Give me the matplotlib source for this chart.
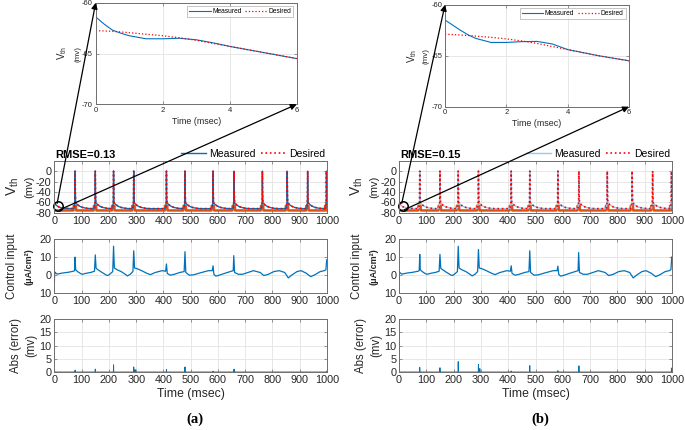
import numpy as np
import matplotlib.pyplot as plt
from matplotlib.patches import ConnectionPatch

plt.rcParams['font.family'] = ['Liberation Sans', 'DejaVu Sans']
plt.rcParams['axes.unicode_minus'] = False
plt.rcParams['mathtext.default'] = 'regular'

# ---------------- data ----------------
# spike times (ms) of the membrane voltage, same in both runs
spike_t = [76, 150, 217, 291, 411, 479, 582, 659, 763, 854, 929, 998]
# shape around each spike: offset (ms) -> voltage (mV)
spike_off = [-8, -3, -1, 0, 1, 2, 5, 10, 18, 28, 42, 58]
spike_v = [-72, -70.5, -60, 0, -45, -61, -62.5, -65, -67.8, -69.8, -71.3, -72]
# start of the trace
start_t = [0, 3, 8, 15, 25, 40, 60]
start_des = [-62.7, -63.7, -66, -68.5, -70.3, -71.5, -72]
start_meas = [-61.4, -63.5, -66, -68.5, -70.3, -71.5, -72]
# orange trace: flat with a small step at each spike
orange_base = -75.5
orange_off = [-6, -5, 3, 4]
orange_v = [-75.5, -66.5, -66.5, -75.5]

# control input: slow part (shared) and spike peaks per panel
ctrl_t = [0, 1, 5, 10, 30, 50, 70, 74,
          78, 85, 95, 102, 115, 135, 147,
          153, 160, 175, 190, 196, 205, 214,
          220, 230, 245, 260, 268, 278, 288,
          294, 305, 320, 340, 352, 370, 395, 408,
          414, 425, 440, 460, 476,
          482, 495, 510, 540, 565, 579,
          585, 592, 605, 620, 645, 656,
          661, 675, 690, 710, 730, 755, 768, 785, 805, 825, 845, 858,
          870, 890, 905, 925, 940, 955, 975, 990, 996]
ctrl_v = [-3.5, 1.8, 1.2, 0.6, 1.2, 1.6, 2.2, 2.5,
          3.0, 2.0, 1.0, 0.5, 1.0, 1.6, 2.2,
          3.8, 3.0, 1.5, 0.1, -0.2, 0.8, 2.0,
          4.0, 3.0, 2.0, 0.5, -0.4, 0.5, 2.0,
          4.0, 3.5, 2.5, 1.0, 0.3, 1.5, 2.5, 2.2,
          1.0, 0.0, 0.5, 1.5, 2.0,
          1.5, 0.0, 0.2, 1.5, 2.5, 2.5,
          0.5, -0.5, 0.0, 0.8, 2.0, 2.5,
          1.5, 0.5, 0.5, 1.5, 2.5, 1.5, -0.2, 0.5, 2.0, 2.5, 1.5, -1.5,
          0.0, 2.0, 2.5, 1.0, -0.8, 0.2, 2.0, 2.5, 3.0]
ctrl_spk_t = [76, 150, 217, 291, 411, 479, 582, 658, 999]
ctrl_spk_a = [10, 11.2, 16, 13.5, 6.2, 13, 5.2, 10.8, 8.5]
ctrl_spk_b = [11.5, 11.5, 16, 14.2, 5.2, 13.5, 5, 12.5, 10]

# absolute error spikes
err_base = 0.1
err_t = [76, 150, 217, 291, 296, 411, 479, 582, 659, 998]
err_a = [0.8, 1.2, 2.8, 2.0, 1.0, 1.0, 2.0, 0.4, 1.2, 0.4]
err_b = [1.8, 1.7, 4.0, 2.9, 1.4, 0.5, 2.5, 0.6, 2.4, 1.6]

# zoomed first 6 ms
zoom_t = [0, 0.25, 0.5, 0.75, 1, 1.5, 2, 2.5, 3, 3.5, 4, 4.5, 5, 5.5, 6]
zoom_meas_a = [-61.4, -62.1, -62.7, -63.0, -63.25, -63.55, -63.55, -63.5, -63.65, -63.95, -64.3, -64.6, -64.9, -65.2, -65.5]
zoom_des_a = [-62.75, -62.78, -62.82, -62.88, -62.95, -63.1, -63.25, -63.45, -63.7, -64.0, -64.3, -64.6, -64.9, -65.2, -65.5]
zoom_meas_b = [-61.5, -62.0, -62.5, -62.95, -63.3, -63.7, -63.7, -63.62, -63.6, -63.85, -64.4, -64.7, -65.0, -65.25, -65.5]
zoom_des_b = [-62.9, -62.93, -62.97, -63.02, -63.08, -63.2, -63.35, -63.55, -63.8, -64.1, -64.4, -64.7, -65.0, -65.25, -65.5]

rmse_txt = ['RMSE=0.13', 'RMSE=0.15']
panel_txt = ['(a)', '(b)']

# ---------------- build traces from the points ----------------
def v_trace(start_v):
    t = list(start_t)
    v = list(start_v)
    for s in spike_t:
        t += [s + o for o in spike_off]
        v += spike_v
    return np.array(t), np.array(v)

def orange_trace():
    t = [0]
    v = [orange_base]
    for s in spike_t:
        t += [s + o for o in orange_off]
        v += orange_v
    t.append(1000)
    v.append(orange_base)
    return np.array(t), np.array(v)

def ctrl_trace(peaks):
    pts = sorted(list(zip(ctrl_t, ctrl_v)) + list(zip(ctrl_spk_t, peaks)))
    return [p[0] for p in pts], [p[1] for p in pts]

def err_trace(vals):
    t = [0]
    v = [err_base]
    for s, e in zip(err_t, vals):
        t += [s - 0.6, s, s + 0.6]
        v += [err_base, e, err_base]
    t.append(1000)
    v.append(err_base)
    return t, v

W, H = 685, 430
def box(l, t, r, b):
    return [l / W, 1 - b / H, (r - l) / W, (b - t) / H]

BLUE = '#0072BD'
ORANGE = '#D95319'
GRID = '#e3e3e3'
SPINE = '#6e6e6e'
TXT = '#262626'

def style(ax, fs):
    ax.grid(True, color=GRID, lw=0.6)
    ax.set_axisbelow(True)
    for s in ax.spines.values():
        s.set_color(SPINE)
        s.set_linewidth(0.7)
    ax.tick_params(direction='in', length=2.5, width=0.5, colors=SPINE,
                   labelcolor=TXT, labelsize=fs, pad=2,
                   top=True, right=True)

def side_label(ax, txt, dx, fs, weight='normal'):
    ax.annotate(txt, xy=(0, 0.5), xycoords='axes fraction', xytext=(dx, 0),
                textcoords='offset pixels', rotation=90, ha='center',
                va='center', fontsize=fs, fontweight=weight, color=TXT)

fig = plt.figure(figsize=(6.85, 4.30), dpi=100)

panels = [
    dict(x0=0, main=(54.4, 327), inset=(95.7, 2.7, 296.7, 104.3),
         zm=zoom_meas_a, zd=zoom_des_a, cs=ctrl_spk_a, er=err_a, mcol=BLUE,
         vlab=-34, mvlab=-18),
    dict(x0=345, main=(399, 672), inset=(445, 4.7, 629, 106.7),
         zm=zoom_meas_b, zd=zoom_des_b, cs=ctrl_spk_b, er=err_b, mcol='#9cc6ea',
         vlab=-33, mvlab=-19),
]

for k, p in enumerate(panels):
    l, r = p['main']

    # ---- main voltage axes ----
    ax1 = fig.add_axes(box(l, 160.7, r, 212.8))
    style(ax1, 7.8)
    tm, vm = v_trace(start_meas)
    td, vd = v_trace(start_des)
    to, vo = orange_trace()
    ax1.plot(to, vo, color=ORANGE, lw=1.8)
    ax1.plot(tm, vm, color=p['mcol'], lw=1.0, label='Measured')
    ax1.plot(td, vd, color='red', ls=':', lw=1.2, label='Desired')
    ax1.set_xlim(0, 1000)
    ax1.set_ylim(-80, 20)
    ax1.set_xticks(range(0, 1001, 100))
    ax1.set_yticks(range(-80, 1, 20))
    side_label(ax1, 'V$_{th}$', -42, 10)
    side_label(ax1, '(mv)', -25, 8)
    ax1.annotate(rmse_txt[k], xy=(0, 1), xycoords='axes fraction',
                 xytext=(1, 6), textcoords='offset pixels', ha='left',
                 va='center', fontsize=8, fontweight='bold', color='k')
    ax1.legend(loc='lower right', bbox_to_anchor=(1.0, 1.0), ncol=2,
               frameon=False, fontsize=7.5, handlelength=2.4,
               handletextpad=0.3, columnspacing=0.5, borderaxespad=0.1,
               borderpad=0.1)
    ax1.plot([13], [-67], 'o', ms=6.8, mfc='none', mec='k', mew=1.1, clip_on=False)

    # ---- control input ----
    ax2 = fig.add_axes(box(l, 239, r, 293.3))
    style(ax2, 7.8)
    ct, cv = ctrl_trace(p['cs'])
    ax2.plot(ct, cv, color=BLUE, lw=0.9)
    ax2.set_xlim(0, 1000)
    ax2.set_ylim(-10, 20)
    ax2.set_xticks(range(0, 1001, 100))
    ax2.set_yticks([-10, 0, 10, 20])
    ax2.set_yticklabels(['10', '0', '10', '20'])
    side_label(ax2, 'Control input', -42, 8.3)
    side_label(ax2, '(μA/cm²)', -25, 6.5, 'bold')

    # ---- absolute error ----
    ax3 = fig.add_axes(box(l, 319, r, 372.3))
    style(ax3, 7.8)
    et, ev = err_trace(p['er'])
    ax3.plot(et, ev, color=BLUE, lw=0.7)
    ax3.set_xlim(0, 1000)
    ax3.set_ylim(0, 20)
    ax3.set_xticks(range(0, 1001, 100))
    ax3.set_yticks(range(0, 21, 5))
    side_label(ax3, 'Abs (error)', -38, 8.3)
    side_label(ax3, '(mv)', -23, 8.3)
    ax3.set_xlabel('Time (msec)', fontsize=8.8, color=TXT, labelpad=2)

    # ---- inset: first 6 ms ----
    il, it, ir, ib = p['inset']
    ax0 = fig.add_axes(box(il, it, ir, ib))
    style(ax0, 5.5)
    ax0.plot(zoom_t, p['zm'], color=BLUE, lw=0.8, label='Measured')
    ax0.plot(zoom_t, p['zd'], color='red', ls=':', lw=0.9, label='Desired')
    ax0.set_xlim(0, 6)
    ax0.set_ylim(-70, -60)
    ax0.set_xticks([0, 2, 4, 6])
    ax0.set_yticks([-70, -65, -60])
    ax0.set_xlabel('Time (msec)', fontsize=6.4, color=TXT, labelpad=2)
    side_label(ax0, 'V$_{th}$', p['vlab'], 7)
    side_label(ax0, '(mv)', p['mvlab'], 5.8)
    lg = ax0.legend(loc='upper right', ncol=2, fontsize=4.8, handlelength=3.2,
                    handletextpad=0.3, columnspacing=0.5, borderpad=0.3,
                    borderaxespad=0.5, fancybox=False)
    lg.get_frame().set_edgecolor('#9a9a9a')
    lg.get_frame().set_linewidth(0.5)

    # ---- arrows from the circle to the inset corners ----
    for a_start, b_end in [((10, -62), (0, -60)), ((20, -74), (6, -70))]:
        cp = ConnectionPatch(xyA=a_start, coordsA=ax1.transData,
                             xyB=b_end, coordsB=ax0.transData,
                             arrowstyle='-|>', mutation_scale=9, lw=0.9,
                             color='k', shrinkA=0, shrinkB=0)
        fig.add_artist(cp)

    fig.text((p['x0'] + 195) / W, 1 - 419 / H, panel_txt[k], ha='center',
             va='center', fontsize=10.5, fontweight='bold',
             family='Liberation Serif')

fig.savefig('out.png', dpi=100)
